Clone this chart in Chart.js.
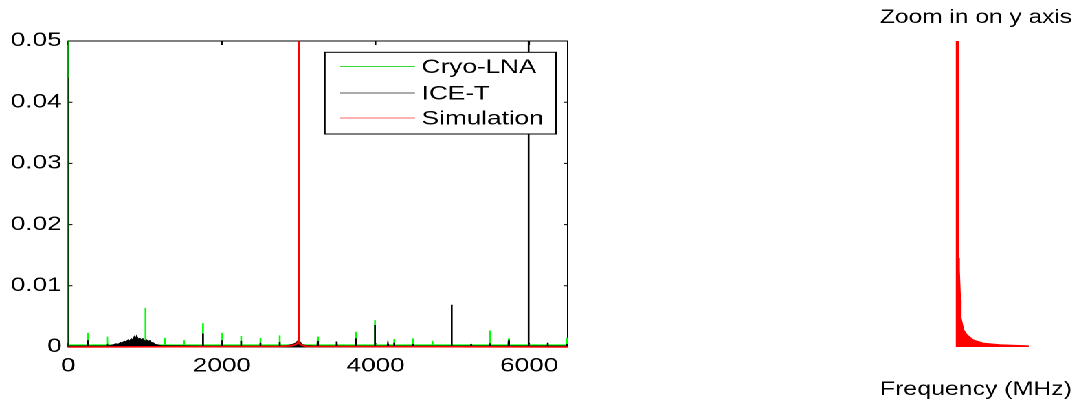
<!DOCTYPE html>
<html><head><meta charset="utf-8">
<script src="https://cdn.jsdelivr.net/npm/chart.js@4.4.0/dist/chart.umd.min.js"></script>
<style>
html,body{margin:0;padding:0;background:#fff;overflow:hidden;}
#wrap{position:absolute;left:0;top:0;width:785px;height:404px;transform:scaleX(1.3745);transform-origin:0 0;}
#c1{position:absolute;left:0;top:0;}
#c2{position:absolute;left:635px;top:0;}
</style></head><body>
<div id="wrap"><canvas id="c1" width="430" height="404"></canvas><canvas id="c2" width="150" height="404"></canvas></div>
<script>
// ---- data ----
const xTicks = [0, 2000, 4000, 6000];
const xTickLabels = ['0', '2000', '4000', '6000'];
const yTicks = [0, 0.01, 0.02, 0.03, 0.04, 0.05];
const yTickLabels = ['0', '0.01', '0.02', '0.03', '0.04', '0.05'];

// Cryo-LNA (green) spikes
const cryoFloor = 0.00032;
const cryoPeakFreq = [0, 255, 506, 1003, 1254, 1505, 1751, 2002, 2248, 2499, 2750, 3003, 3247, 3744, 3990, 4241, 4488, 4738, 5486, 5733, 6490];
const cryoPeakVal  = [0.06, 0.0023, 0.0017, 0.0064, 0.0015, 0.0011, 0.0039, 0.0023, 0.0018, 0.0015, 0.0019, 0.0044, 0.0017, 0.0025, 0.0044, 0.0013, 0.0014, 0.0010, 0.0027, 0.0014, 0.0015];

// ICE-T (black) spikes
const iceFloor = 0.00014;
const icePeakFreq = [0, 255, 506, 1751, 2002, 2248, 2499, 2750, 3000, 3247, 3493, 3744, 3990, 4160, 4241, 4488, 4989, 5244, 5486, 5733, 5990, 6239, 6490];
const icePeakVal  = [0.044, 0.0011, 0.0005, 0.0022, 0.0011, 0.0010, 0.0007, 0.0008, 0.0028, 0.0010, 0.0009, 0.0014, 0.0036, 0.0005, 0.0007, 0.0005, 0.0069, 0.0005, 0.0006, 0.0011, 0.06, 0.0007, 0.0005];
// ICE-T broad noise humps (jagged envelope)
const iceHumpFreq = [580, 620, 650, 680, 700, 730, 750, 780, 800, 820, 840, 860, 875, 890, 910, 930, 950, 970, 990, 1003, 1020, 1040, 1060, 1080, 1100, 1130, 1170, 1200,
                     2850, 2920, 2960, 2985, 3015, 3040, 3100];
const iceHumpVal  = [0.0003, 0.0005, 0.0004, 0.0007, 0.0006, 0.0009, 0.0008, 0.0011, 0.0009, 0.0013, 0.0011, 0.0016, 0.0012, 0.0017, 0.0012, 0.0014, 0.0011, 0.0013, 0.0010, 0.0009, 0.0011, 0.0009, 0.0010, 0.0007, 0.0007, 0.0004, 0.0003, 0.0002,
                     0.0002, 0.0004, 0.0006, 0.0009, 0.0008, 0.0004, 0.0002];

// Simulation (red), full range
const simFreq = [0, 2770, 2900, 2960, 2990, 2998, 3000, 3002, 3010, 3040, 3100, 6500];
const simVal  = [0, 0.0001, 0.0002, 0.0004, 0.0007, 0.0012, 0.06, 0.0012, 0.0006, 0.0003, 0.0001, 0];

// Simulation, zoomed view
const zoomFreq = [3000, 3000, 3000.8, 3001.1, 3001.7, 3002.0, 3003.4, 3005.2, 3008.4, 3013.6, 3022.5, 3037, 3037];
const zoomVal  = [0, 0.06, 0.000582, 0.000503, 0.000307, 0.00019, 0.000111, 0.0000784, 0.0000458, 0.0000242, 0.0000131, 0.0000065, 0];

// ---- build point lists ----
function spikeSeries(floor, pf, pv, ef, ev, xmin, xmax) {
  const pts = [{x: xmin, y: floor}, {x: xmax, y: floor}];
  pf.forEach((f, i) => { pts.push({x: f - 4, y: floor}, {x: f, y: pv[i]}, {x: f + 4, y: floor}); });
  (ef || []).forEach((f, i) => pts.push({x: f, y: ev[i]}));
  pts.sort((a, b) => a.x - b.x);
  return pts;
}
const cryoPts = spikeSeries(cryoFloor, cryoPeakFreq, cryoPeakVal, null, null, 0, 6500);
const icePts = spikeSeries(iceFloor, icePeakFreq, icePeakVal, iceHumpFreq, iceHumpVal, 0, 6500);
const simPts = simFreq.map((f, i) => ({x: f, y: simVal[i]}));
const zoomPts = zoomFreq.map((f, i) => ({x: f, y: zoomVal[i]}));

const FONT = "'Liberation Sans', Arial, Helvetica, sans-serif";
const FS = 19;

const boxTicks = {
  id: 'boxTicks',
  beforeDatasetsDraw(chart) {
    const {ctx, chartArea: a, scales: {x, y}} = chart;
    ctx.save();
    ctx.strokeStyle = '#000';
    ctx.lineWidth = 1;
    ctx.strokeRect(a.left, a.top, a.right - a.left, a.bottom - a.top);
    ctx.beginPath();
    x.ticks.forEach(t => {
      const px = x.getPixelForValue(t.value);
      ctx.moveTo(px, a.bottom); ctx.lineTo(px, a.bottom - 4);
      ctx.moveTo(px, a.top); ctx.lineTo(px, a.top + 4);
    });
    y.ticks.forEach(t => {
      const py = y.getPixelForValue(t.value);
      ctx.moveTo(a.left, py); ctx.lineTo(a.left + 3, py);
      ctx.moveTo(a.right, py); ctx.lineTo(a.right - 3, py);
    });
    ctx.stroke();
    ctx.restore();
  }
};

const legendBox = {
  id: 'legendBox',
  afterDatasetsDraw(chart) {
    const ctx = chart.ctx;
    ctx.save();
    ctx.fillStyle = '#fff';
    ctx.fillRect(236.4, 52.3, 168.1, 81.7);
    ctx.strokeStyle = '#000';
    ctx.lineWidth = 1;
    ctx.strokeRect(236.4, 52.3, 168.1, 81.7);
    const rows = [68, 94.5, 119.5];
    ctx.font = FS + 'px ' + FONT;
    ctx.textBaseline = 'middle';
    ctx.textAlign = 'left';
    chart.data.datasets.forEach((ds, i) => {
      const yy = rows[i];
      ctx.strokeStyle = ds.legendColor;
      ctx.lineWidth = 1;
      ctx.beginPath();
      ctx.moveTo(247.4, yy - 1.5); ctx.lineTo(301.9, yy - 1.5);
      ctx.stroke();
      ctx.fillStyle = '#000';
      ctx.fillText(ds.label, 306.8, yy);
    });
    ctx.restore();
  }
};

new Chart(document.getElementById('c1'), {
  type: 'line',
  data: {
    datasets: [
      {label: 'Cryo-LNA', data: cryoPts, borderColor: '#00ff00', backgroundColor: '#00ff00', legendColor: '#33dd33', fill: 'origin', borderWidth: 1.3, pointRadius: 0, order: 3},
      {label: 'ICE-T', data: icePts, borderColor: '#000000', backgroundColor: '#000000', legendColor: '#555555', fill: 'origin', borderWidth: 1.3, pointRadius: 0, order: 2},
      {label: 'Simulation', data: simPts, borderColor: '#ff0000', backgroundColor: '#ff0000', legendColor: '#ff6666', fill: false, borderWidth: 1.6, pointRadius: 0, order: 1, clip: {left: 0, top: 0, right: 0, bottom: 3}}
    ]
  },
  options: {
    responsive: false, animation: false, devicePixelRatio: 2,
    layout: {padding: {top: 41, right: 17, left: 0, bottom: 0}},
    plugins: {legend: {display: false}, tooltip: {enabled: false}},
    scales: {
      x: {
        type: 'linear', min: 0, max: 6500,
        afterBuildTicks: s => { s.ticks = xTicks.map(v => ({value: v})); },
        afterFit: s => { s.height = 57; },
        grid: {display: false, drawTicks: false}, border: {display: false},
        ticks: {padding: 8, color: '#000', font: {family: FONT, size: FS}, maxRotation: 0, autoSkip: false,
          callback: v => xTickLabels[xTicks.indexOf(v)]}
      },
      y: {
        type: 'linear', min: 0, max: 0.05,
        afterBuildTicks: s => { s.ticks = yTicks.map(v => ({value: v})); },
        afterFit: s => { s.width = 49.7; },
        grid: {display: false, drawTicks: false}, border: {display: false},
        ticks: {padding: 4.8, color: '#000', font: {family: FONT, size: FS}, autoSkip: false,
          callback: v => yTickLabels[yTicks.indexOf(v)]}
      }
    }
  },
  plugins: [boxTicks, legendBox]
});

new Chart(document.getElementById('c2'), {
  type: 'line',
  data: {datasets: [{label: 'Simulation', data: zoomPts, borderColor: '#ff0000', backgroundColor: '#ff0000', fill: 'origin', borderWidth: 1.4, pointRadius: 0}]},
  options: {
    responsive: false, animation: false, devicePixelRatio: 2,
    layout: {padding: {left: 5.2, right: 5.1, top: 0, bottom: 0}},
    plugins: {
      legend: {display: false}, tooltip: {enabled: false},
      title: {display: true, text: 'Zoom in on y axis', color: '#000', font: {family: FONT, size: FS, weight: 'normal'}, padding: {top: 6.5, bottom: 11.7}}
    },
    scales: {
      x: {type: 'linear', min: 2960, max: 3060, grid: {display: false}, border: {display: false}, ticks: {display: false},
        afterFit: s => { s.height = 57; },
        title: {display: true, text: 'Frequency (MHz)', color: '#000', font: {family: FONT, size: FS}, padding: {top: 0, bottom: 3}}},
      y: {display: false, min: 0, max: 0.002}
    }
  }
});
</script>
</body></html>
